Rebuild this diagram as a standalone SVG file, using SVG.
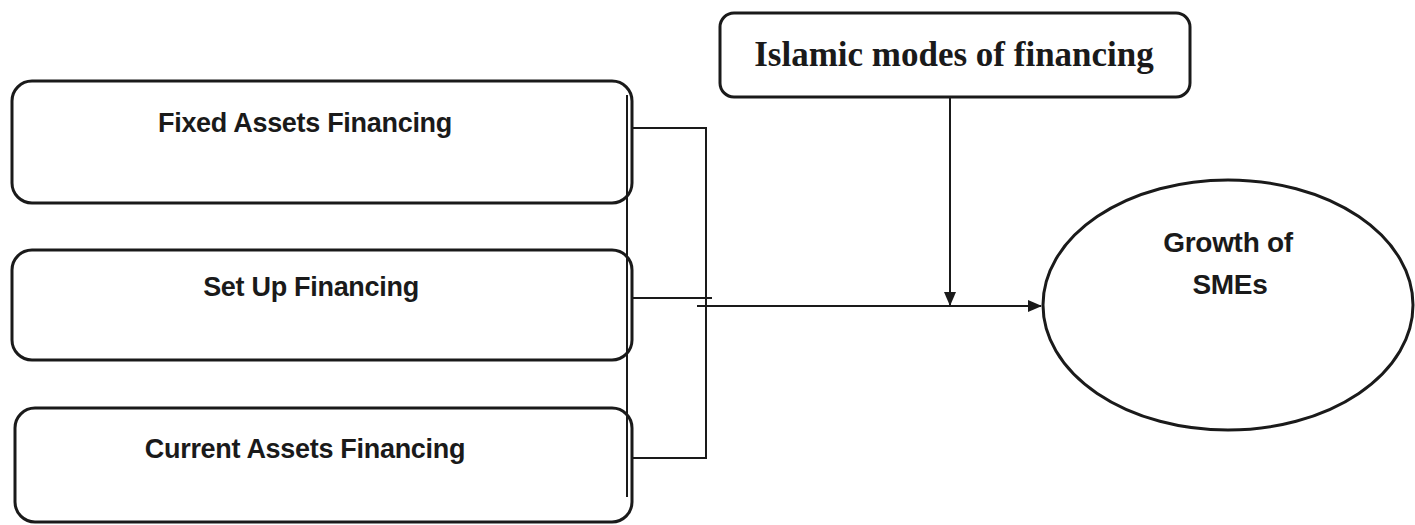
<svg xmlns="http://www.w3.org/2000/svg" width="1415" height="525" viewBox="0 0 1415 525">
<defs>
<style>
.box{fill:#fff;stroke:#1a1a1a;stroke-width:3}
.ln{fill:none;stroke:#1a1a1a;stroke-width:2}
.t{font-family:"Liberation Sans",Arial,sans-serif;font-weight:bold;font-size:27px;fill:#1a1a1a;text-anchor:middle;letter-spacing:-0.3px}
.ts{font-family:"Liberation Serif","Times New Roman",serif;font-weight:bold;font-size:35px;fill:#1a1a1a;text-anchor:middle}
</style>
<marker id="ah" markerWidth="14" markerHeight="12" refX="13" refY="6" orient="auto" markerUnits="userSpaceOnUse">
<path d="M0,0 L14,6 L0,12 Z" fill="#1a1a1a"/>
</marker>
</defs>
<rect width="1415" height="525" fill="#fff"/>
<g id="fixed-assets">
<rect class="box" x="12" y="81" width="620" height="122" rx="20"/>
<text class="t" x="305" y="132">Fixed Assets Financing</text>
</g>
<g id="set-up">
<rect class="box" x="12" y="250" width="620" height="110" rx="20"/>
<text class="t" x="311" y="296">Set Up Financing</text>
</g>
<g id="current-assets">
<rect class="box" x="15" y="408" width="617" height="114" rx="20"/>
<text class="t" x="305" y="458">Current Assets Financing</text>
</g>
<g id="islamic">
<rect class="box" x="720" y="13" width="470" height="84" rx="14"/>
<text class="ts" x="954" y="66">Islamic modes of financing</text>
</g>
<g id="growth">
<ellipse class="box" cx="1228" cy="305" rx="185" ry="125"/>
<text class="t" x="1228" y="252" style="font-size:28px">Growth of</text>
<text class="t" x="1230" y="294" style="font-size:28px">SMEs</text>
</g>
<g id="connectors">
<line class="ln" x1="627" y1="95" x2="627" y2="497"/>
<polyline class="ln" points="632,128 706,128 706,458 632,458"/>
<line class="ln" x1="632" y1="298" x2="712" y2="298"/>
<line class="ln" x1="697" y1="306" x2="1041" y2="306" marker-end="url(#ah)"/>
<line class="ln" x1="950" y1="97" x2="950" y2="305" marker-end="url(#ah)"/>
</g>
</svg>
